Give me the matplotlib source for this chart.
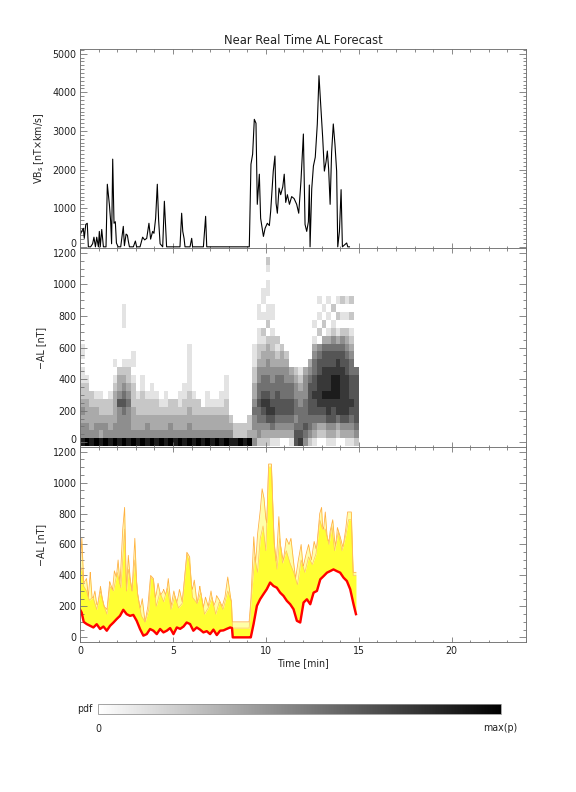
import numpy as np
import matplotlib
matplotlib.use("Agg")
import matplotlib.pyplot as plt
import matplotlib.transforms as mtransforms
from matplotlib.colors import LinearSegmentedColormap, Normalize
from matplotlib.ticker import MultipleLocator
from matplotlib.cm import ScalarMappable

# ---------------- data ----------------
title = "Near Real Time AL Forecast"

# Top panel: VBs time series (minutes, nT x km/s)
vbs_t = [0.00, 0.09, 0.18, 0.23, 0.31, 0.39, 0.45, 0.57, 0.68, 0.75, 0.83, 0.90,
         0.99, 1.04, 1.09, 1.17, 1.26, 1.40, 1.47, 1.58, 1.65, 1.70, 1.76, 1.83,
         1.90, 1.96, 2.05, 2.19, 2.33, 2.39, 2.48, 2.55, 2.60, 2.66, 2.87, 2.98,
         3.05, 3.23, 3.37, 3.48, 3.59, 3.71, 3.80, 3.91, 3.98, 4.07, 4.16, 4.23,
         4.31, 4.45, 4.54, 4.61, 4.66, 5.38, 5.47, 5.53, 5.60, 5.65, 5.92, 6.01,
         6.06, 6.64, 6.76, 6.82, 9.11, 9.20, 9.29, 9.38, 9.47, 9.54, 9.65, 9.72,
         9.87, 9.96, 10.08, 10.19, 10.26, 10.40, 10.49, 10.55, 10.62, 10.71, 10.80,
         10.91, 10.99, 11.07, 11.16, 11.27, 11.39, 11.52, 11.66, 11.77, 11.89,
         12.02, 12.11, 12.20, 12.29, 12.34, 12.38, 12.47, 12.56, 12.66, 12.77,
         12.86, 12.95, 13.06, 13.15, 13.24, 13.31, 13.38, 13.46, 13.54, 13.63,
         13.72, 13.81, 13.87, 13.96, 14.05, 14.12, 14.35, 14.41, 14.50]
vbs_v = [300, 400, 480, 220, 580, 610, 0, 0, 80, 250, 0, 250,
         0, 400, 0, 450, 0, 0, 1620, 1100, 660, 80, 2270, 610,
         650, 100, 0, 0, 530, 30, 330, 300, 150, 0, 0, 150,
         0, 0, 250, 180, 220, 610, 200, 400, 350, 740, 1620, 700,
         80, 0, 1180, 500, 0, 0, 870, 400, 220, 0, 0, 220,
         0, 0, 790, 0, 0, 2140, 2400, 3300, 3200, 1100, 1880, 740,
         270, 480, 610, 550, 920, 1960, 2350, 1130, 870, 1520, 1350,
         1550, 1880, 1150, 1350, 1100, 1300, 1250, 1100, 870, 1700,
         2920, 580, 400, 650, 1600, 0, 1500, 2090, 2320, 3180,
         4430, 3700, 2820, 1960, 2200, 2480, 2010, 1100, 2450, 3180,
         2650, 1960, 0, 400, 1480, 0, 100, 0, 0]

# Middle panel: pdf of -AL, columns of 0.25 min, rows centred on multiples of 50 nT
# (bottom -> top), intensity 0 (none) .. 9 (max)
pdf_dt = 0.25
pdf_dal = 50
pdf_nrows = 24
pdf_columns = [
    "8443432211011", "944333221", "8433322", "9443321", "8343221", "944322",
    "8433221", "94433332101", "8444464332", "944456543210000111", "84444543221",
    "943332221011", "8433221", "943322211", "8443221", "94332211", "8433221",
    "943321", "8433211", "944322", "843322", "9433211", "84332211",
    "9443322111111", "8433221", "943322", "84332", "9433211", "843321", "943321",
    "8433211", "943322111", "8432", "822", "922", "822", "9322",
    "4344543322111", "244556554432211011", "23456765543321201011",
    "234677655443320211011012", "135676554433221011", "13456665543212",
    "0345665554332", "034566554432", "1345665543", "6654554432", "7655544321",
    "4565554443", "24556666543", "1345667665543101", "0235677776654020101",
    "0235678777665302010", "1346778777665310101", "1346678887665421020",
    "0235778887765310201", "0346777777665420102", "1346777776654320101",
    "1345676665543210202", "2456666665",
]

# Bottom panel: forecast -AL curves
red_t = [0.00, 0.09, 0.20, 0.36, 0.54, 0.72, 0.90, 1.08, 1.26, 1.44, 1.62, 1.80,
         1.97, 2.15, 2.33, 2.51, 2.69, 2.87, 3.05, 3.23, 3.41, 3.59, 3.77, 3.95,
         4.13, 4.31, 4.49, 4.67, 4.85, 5.03, 5.21, 5.39, 5.57, 5.74, 5.92, 6.10,
         6.28, 6.46, 6.64, 6.82, 7.00, 7.18, 7.36, 7.54, 7.72, 7.90, 8.08, 8.18,
         8.22, 9.15, 9.19, 9.34, 9.52, 9.69, 9.87, 10.05, 10.23, 10.41, 10.59,
         10.77, 10.95, 11.13, 11.31, 11.49, 11.67, 11.85, 12.03, 12.21, 12.39,
         12.57, 12.75, 12.93, 13.11, 13.29, 13.46, 13.64, 13.82, 14.00, 14.18,
         14.36, 14.54, 14.72, 14.85]
red_v = [180, 160, 100, 86, 75, 64, 85, 54, 70, 43, 75, 96,
         118, 139, 178, 150, 139, 145, 107, 54, 11, 21, 54, 43,
         21, 54, 32, 43, 60, 21, 64, 55, 70, 96, 86, 43,
         64, 50, 32, 40, 21, 50, 15, 43, 45, 55, 64, 60,
         0, 0, 0, 86, 204, 246, 279, 311, 354, 332, 321,
         289, 268, 236, 214, 182, 107, 96, 225, 246, 214,
         289, 300, 375, 396, 418, 428, 439, 428, 418, 386,
         364, 311, 214, 150]

q_t = [0.0, 0.1, 0.2, 0.35, 0.5, 0.7, 0.9, 1.1, 1.3, 1.45, 1.6, 1.8, 2.0, 2.2,
       2.4, 2.5, 2.6, 2.8, 2.95, 3.1, 3.3, 3.5, 3.7, 3.8, 3.95, 4.1, 4.3, 4.5,
       4.7, 4.9, 5.1, 5.3, 5.5, 5.75, 5.9, 6.05, 6.3, 6.5, 6.7, 6.9, 7.1, 7.3,
       7.5, 7.7, 7.95, 8.15, 8.2, 9.1, 9.2, 9.4, 9.55, 9.7, 9.85, 10.0, 10.15,
       10.3, 10.45, 10.6, 10.75, 10.9, 11.1, 11.3, 11.5, 11.7, 11.9, 12.1, 12.3,
       12.5, 12.7, 12.9, 13.05, 13.2, 13.4, 13.55, 13.7, 13.9, 14.1, 14.3, 14.45,
       14.6, 14.7, 14.85]
q_v = [420, 450, 330, 300, 240, 260, 180, 300, 200, 150, 330, 300, 420, 320,
       700, 300, 440, 300, 500, 280, 140, 100, 180, 390, 370, 200, 290, 230,
       320, 180, 270, 190, 220, 540, 480, 260, 220, 290, 150, 190, 260, 150,
       230, 180, 300, 230, 60, 60, 230, 520, 420, 640, 720, 560, 1100,
       1100, 600, 440, 640, 480, 560, 480, 420, 340, 500, 420, 520,
       470, 540, 760, 700, 700, 600, 720, 560, 680, 560, 660, 760,
       760, 400, 400]

max_t = [0.0, 0.1, 0.2, 0.35, 0.45, 0.55, 0.65, 0.8, 0.95, 1.1, 1.2, 1.3, 1.45,
         1.6, 1.75, 1.85, 1.95, 2.05, 2.15, 2.3, 2.4, 2.5, 2.6, 2.7, 2.8, 2.95,
         3.05, 3.2, 3.35, 3.5, 3.65, 3.8, 3.95, 4.05, 4.2, 4.35, 4.5, 4.6, 4.75,
         4.9, 5.05, 5.2, 5.35, 5.5, 5.65, 5.75, 5.9, 6.0, 6.15, 6.3, 6.45, 6.6,
         6.75, 6.9, 7.05, 7.2, 7.35, 7.5, 7.65, 7.8, 7.95, 8.1, 8.2, 9.1, 9.2,
         9.35, 9.45, 9.55, 9.7, 9.8, 9.9, 10.05, 10.15, 10.3, 10.4, 10.55, 10.7,
         10.8, 10.95, 11.1, 11.25, 11.35, 11.5, 11.6, 11.75, 11.9, 12.0, 12.15,
         12.3, 12.45, 12.6, 12.75, 12.9, 13.0, 13.1, 13.2, 13.35, 13.45, 13.6,
         13.75, 13.85, 14.0, 14.15, 14.3, 14.4, 14.6, 14.7, 14.85]
max_v = [420, 640, 350, 380, 250, 420, 220, 300, 170, 330, 250, 200, 180,
         360, 300, 430, 380, 500, 330, 700, 840, 300, 530, 380, 300, 640,
         350, 150, 250, 100, 200, 400, 380, 240, 350, 200, 310, 230, 380,
         200, 300, 200, 310, 230, 250, 550, 520, 280, 370, 220, 330, 160,
         260, 200, 300, 160, 270, 240, 200, 260, 390, 260, 100, 100, 250,
         650, 450, 660, 820, 960, 900, 700, 1120, 1120, 700, 450, 780,
         550, 500, 640, 600, 640, 480, 380, 500, 600, 450, 530,
         600, 500, 620, 550, 800, 840, 600, 810, 560, 680, 760,
         560, 710, 650, 580, 700, 810, 810, 420, 420]

# ---------------- figure ----------------
W, H = 576, 792
fig = plt.figure(figsize=(W / 72, H / 72), dpi=72)

def ax_rect(x0, y0, x1, y1):
    return [x0 / W, 1 - y1 / H, (x1 - x0) / W, (y1 - y0) / H]

ax_left, ax_right = 80, 526
ax1 = fig.add_axes(ax_rect(ax_left, 49, ax_right, 248))
ax2 = fig.add_axes(ax_rect(ax_left, 248, ax_right, 447))
ax3 = fig.add_axes(ax_rect(ax_left, 447, ax_right, 642))

spine_col = "#707070"
txt_col = "#222222"
fs = 9.5

for ax in (ax1, ax2, ax3):
    ax.set_xlim(0, 24)
    ax.xaxis.set_major_locator(MultipleLocator(5))
    ax.xaxis.set_minor_locator(MultipleLocator(1))
    ax.tick_params(which="both", direction="in", top=True, right=True,
                   color=spine_col, labelsize=fs, labelcolor=txt_col)
    ax.tick_params(which="major", axis="y", length=7, width=0.8)
    ax.tick_params(which="minor", axis="y", length=3.5, width=0.8)
    ax.tick_params(which="major", axis="x", length=5, width=0.8)
    ax.tick_params(which="minor", axis="x", length=2.5, width=0.8)
    for s in ax.spines.values():
        s.set_color(spine_col)
        s.set_linewidth(0.9)

# top panel
ax1.plot(vbs_t, vbs_v, color="black", lw=1.1)
ax1.set_ylim(-30, 5120)
ax1.yaxis.set_major_locator(MultipleLocator(1000))
ax1.yaxis.set_minor_locator(MultipleLocator(100))
ax1.tick_params(labelbottom=False)
ax1.set_ylabel("VB$_\\mathregular{s}$ [nT×km/s]", fontsize=fs, color=txt_col, labelpad=6)
ax1.set_title(title, fontsize=11.5, color=txt_col, pad=5)

# middle panel (pdf)
cmap = LinearSegmentedColormap.from_list("wb", ["#ffffff", "#000000"])
grid = np.array([[int(ch) for ch in col.ljust(pdf_nrows, "0")] for col in pdf_columns]).T
t_edges = np.arange(len(pdf_columns) + 1) * pdf_dt
al_edges = (np.arange(pdf_nrows + 1) - 0.5) * pdf_dal
ax2.pcolormesh(t_edges, al_edges, grid, cmap=cmap, vmin=0, vmax=9, shading="flat")
ax2.set_ylim(-30, 1230)
ax2.yaxis.set_major_locator(MultipleLocator(200))
ax2.yaxis.set_minor_locator(MultipleLocator(50))
ax2.tick_params(labelbottom=False)
ax2.set_ylabel("−AL [nT]", fontsize=fs, color=txt_col, labelpad=6)

# bottom panel (forecast)
tt = np.union1d(np.union1d(red_t, q_t), max_t)
r_i = np.interp(tt, red_t, red_v)
q_i = np.maximum(np.interp(tt, q_t, q_v), r_i)
m_i = np.maximum(np.interp(tt, max_t, max_v), q_i)
ax3.fill_between(tt, q_i, m_i, color="#ffffa8", lw=0)
ax3.fill_between(tt, r_i, q_i, color="#ffff33", lw=0)
ax3.plot(tt, m_i, color="#ffb040", lw=0.8)
ax3.plot(tt, q_i, color="#ffc060", lw=0.7)
ax3.plot(red_t, red_v, color="#ff0000", lw=2.4, solid_joinstyle="round")
ax3.set_ylim(-30, 1230)
ax3.yaxis.set_major_locator(MultipleLocator(200))
ax3.yaxis.set_minor_locator(MultipleLocator(50))
ax3.set_ylabel("−AL [nT]", fontsize=fs, color=txt_col, labelpad=6)
ax3.set_xlabel("Time [min]", fontsize=fs, color=txt_col, labelpad=3)

fig.align_ylabels([ax1, ax2, ax3])

# colorbar
cax = fig.add_axes(ax_rect(98, 704, 501, 714))
cb = fig.colorbar(ScalarMappable(norm=Normalize(0, 1), cmap=cmap), cax=cax,
                  orientation="horizontal")
cb.set_ticks([])
cb.outline.set_edgecolor("#909090")
cb.outline.set_linewidth(0.8)
fig.text(92 / W, 1 - 709 / H, "pdf", ha="right", va="center", fontsize=fs, color=txt_col)
fig.text(98 / W, 1 - 729 / H, "0", ha="center", va="center", fontsize=fs, color=txt_col)
fig.text(500 / W, 1 - 728 / H, "max(p)", ha="center", va="center", fontsize=fs, color=txt_col)

# nudge the "0" labels of the upper panels up, as in the reference
fig.canvas.draw()
for ax in (ax1, ax2):
    for lab in ax.get_yticklabels():
        if lab.get_text() == "0":
            lab.set_transform(lab.get_transform() +
                              mtransforms.ScaledTranslation(0, 3.5 / 72, fig.dpi_scale_trans))

fig.savefig("out.png", dpi=72)
